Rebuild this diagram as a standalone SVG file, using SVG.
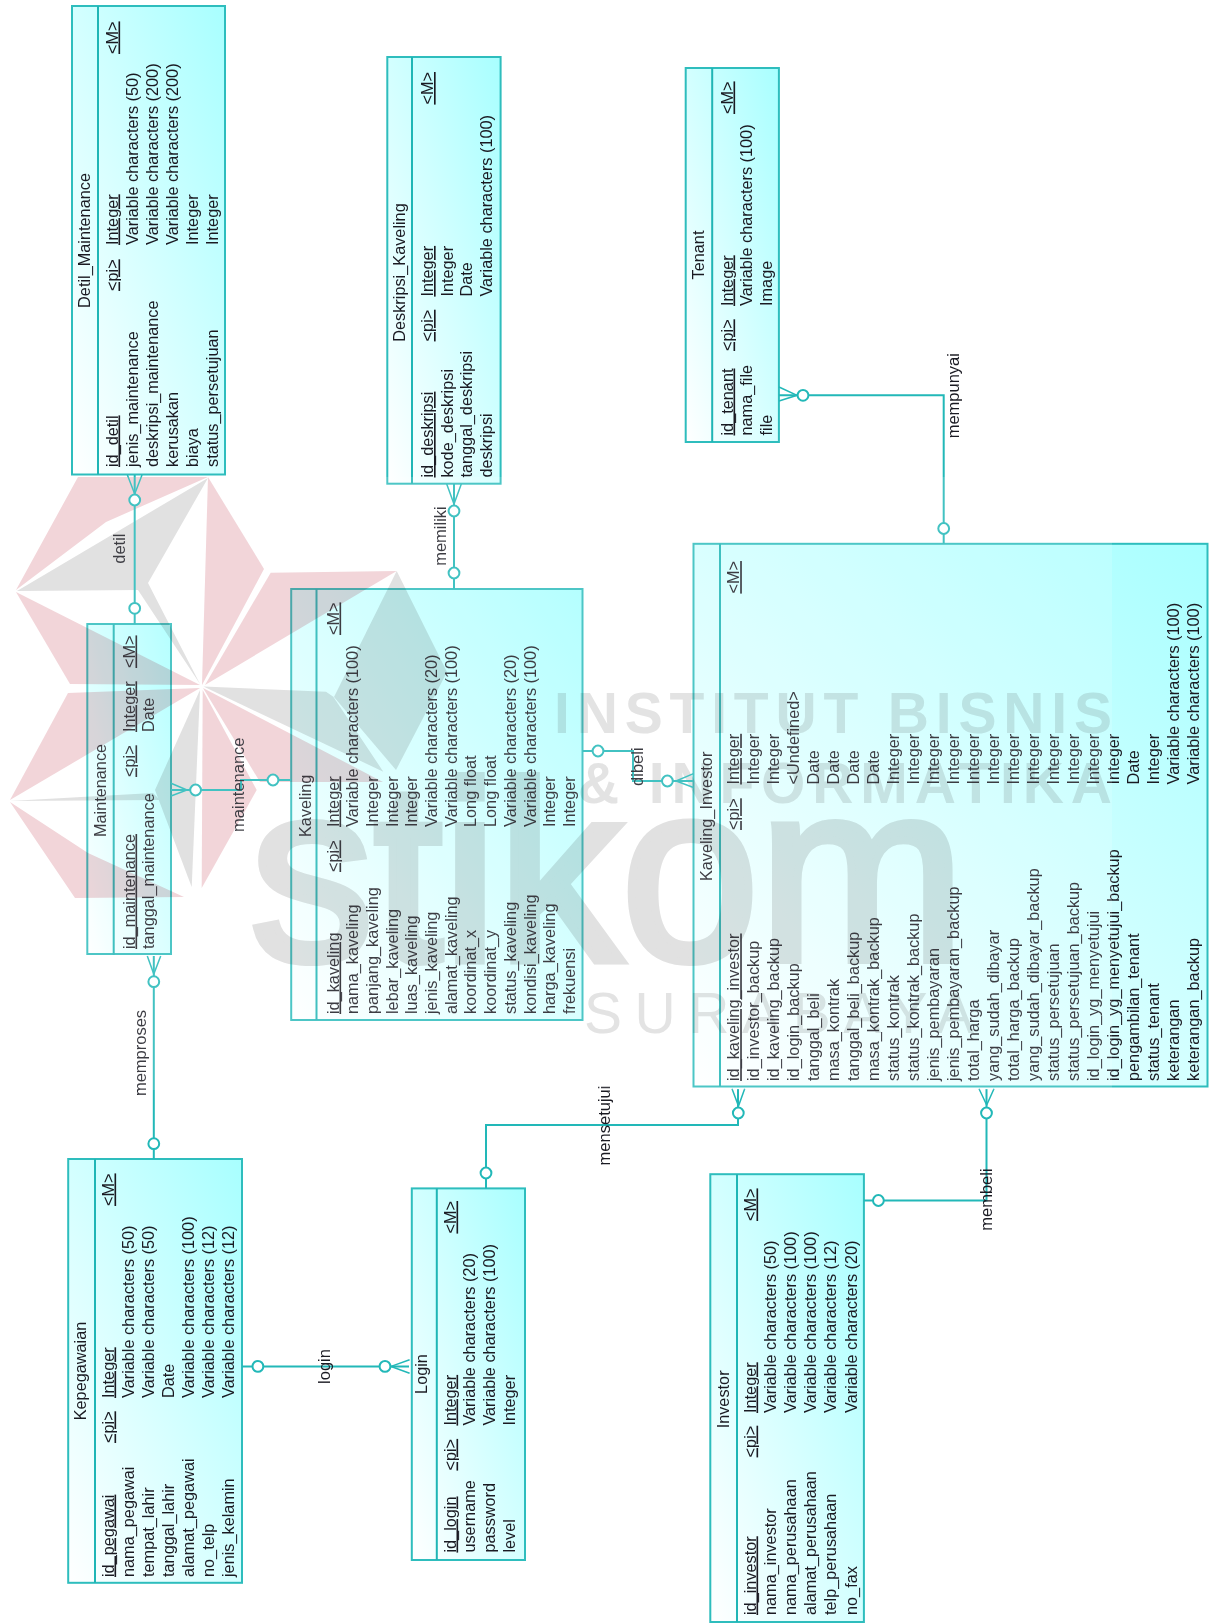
<svg xmlns="http://www.w3.org/2000/svg" width="1211" height="1623" viewBox="0 0 1211 1623">
<defs>
<linearGradient id="ent" x1="0" y1="1" x2="1" y2="0"><stop offset="0" stop-color="#ffffff"/><stop offset="1" stop-color="#a8ffff"/></linearGradient>
</defs>
<style>
text{font-family:"Liberation Sans",Arial,sans-serif;font-size:16.3px;fill:#1a1a22}
.box{fill:url(#ent);stroke:#2ebdbd;stroke-width:2}
.div{stroke:#1fb5b5;stroke-width:2;fill:none}
.u{text-decoration:underline}
.t{text-anchor:middle}
.lbl{text-anchor:middle;font-size:16.5px}
.ln{fill:none;stroke:#22b8b8;stroke-width:2}
.cf{fill:none;stroke:#22b8b8;stroke-width:1.5}
.c{fill:#fff;stroke:#22b8b8;stroke-width:2}
.p{fill:#f0ced3}
.g{fill:#dcdcdc}
.w{font-family:"Liberation Sans",Arial,sans-serif;font-weight:bold;fill:#dfdfdf;font-size:57px}
.big{font-weight:normal;font-size:255px;stroke:#dcdcdc;stroke-width:8;fill:#dcdcdc}
</style>
<rect width="1211" height="1623" fill="#fff"/>

<g id="Detil_Maintenance">
<rect class="box" x="72" y="6" width="153" height="468.5"/><path class="div" d="M98 6V474.5"/>
<text class="t" transform="translate(90 240.5) rotate(-90)">Detil_Maintenance</text>
<g transform="translate(117.5 467) rotate(-90)">
<text class="u">id_detil</text><text y="20.1">jenis_maintenance</text><text y="40.2">deskripsi_maintenance</text><text y="60.3">kerusakan</text><text y="80.4">biaya</text><text y="100.5">status_persetujuan</text>
<text class="u" x="176">&lt;pi&gt;</text>
<text class="u" x="222">Integer</text><text x="222" y="20.1">Variable characters (50)</text><text x="222" y="40.2">Variable characters (200)</text><text x="222" y="60.3">Variable characters (200)</text><text x="222" y="80.4">Integer</text><text x="222" y="100.5">Integer</text>
<text class="u" x="413">&lt;M&gt;</text>
</g></g>

<g id="Deskripsi_Kaveling">
<rect class="box" x="387.3" y="57" width="113.3" height="426.7"/><path class="div" d="M412 57V483.7"/>
<text class="t" transform="translate(404.5 272.5) rotate(-90)">Deskripsi_Kaveling</text>
<g transform="translate(433 477.6) rotate(-90)">
<text class="u">id_deskripsi</text><text y="19.7">kode_deskripsi</text><text y="39.4">tanggal_deskripsi</text><text y="59.1">deskripsi</text>
<text class="u" x="136.2">&lt;pi&gt;</text>
<text class="u" x="181">Integer</text><text x="181" y="19.7">Integer</text><text x="181" y="39.4">Date</text><text x="181" y="59.1">Variable characters (100)</text>
<text class="u" x="373">&lt;M&gt;</text>
</g></g>

<g id="Tenant">
<rect class="box" x="685.7" y="68" width="93.2" height="374"/><path class="div" d="M712.2 68V442"/>
<text class="t" transform="translate(704 255) rotate(-90)">Tenant</text>
<g transform="translate(732.5 435.5) rotate(-90)">
<text class="u">id_tenant</text><text y="19.7">nama_file</text><text y="39.4">file</text>
<text class="u" x="84.5">&lt;pi&gt;</text>
<text class="u" x="129.5">Integer</text><text x="129.5" y="19.7">Variable characters (100)</text><text x="129.5" y="39.4">Image</text>
<text class="u" x="321.5">&lt;M&gt;</text>
</g></g>

<g id="Kaveling_Investor">
<rect class="box" x="693.5" y="543.8" width="514" height="542.7"/><path class="div" d="M720 543.8V1086.5"/>
<text class="t" transform="translate(711.5 816.4) rotate(-90)">Kaveling_Investor</text>
<g transform="translate(739.2 1081) rotate(-90)">
<text class="u">id_kaveling_investor</text><text y="20">id_investor_backup</text><text y="40">id_kaveling_backup</text><text y="60">id_login_backup</text><text y="80">tanggal_beli</text><text y="100">masa_kontrak</text><text y="120">tanggal_beli_backup</text><text y="140">masa_kontrak_backup</text><text y="160">status_kontrak</text><text y="180">status_kontrak_backup</text><text y="200">jenis_pembayaran</text><text y="220">jenis_pembayaran_backup</text><text y="240">total_harga</text><text y="260">yang_sudah_dibayar</text><text y="280">total_harga_backup</text><text y="300">yang_sudah_dibayar_backup</text><text y="320">status_persetujuan</text><text y="340">status_persetujuan_backup</text><text y="360">id_login_yg_menyetujui</text><text y="380">id_login_yg_menyetujui_backup</text><text y="400">pengambilan_tenant</text><text y="420">status_tenant</text><text y="440">keterangan</text><text y="460">keterangan_backup</text>
<text class="u" x="251">&lt;pi&gt;</text>
<g transform="translate(296.5 0)">
<text class="u">Integer</text><text y="20">Integer</text><text y="40">Integer</text><text y="60">&lt;Undefined&gt;</text><text y="80">Date</text><text y="100">Date</text><text y="120">Date</text><text y="140">Date</text><text y="160">Integer</text><text y="180">Integer</text><text y="200">Integer</text><text y="220">Integer</text><text y="240">Integer</text><text y="260">Integer</text><text y="280">Integer</text><text y="300">Integer</text><text y="320">Integer</text><text y="340">Integer</text><text y="360">Integer</text><text y="380">Integer</text><text y="400">Date</text><text y="420">Integer</text><text y="440">Variable characters (100)</text><text y="460">Variable characters (100)</text>
</g>
<text class="u" x="487.4">&lt;M&gt;</text>
</g></g>

<g id="Kaveling">
<rect class="box" x="291.2" y="589" width="291.3" height="431"/><path class="div" d="M316.5 589V1020"/>
<text class="t" transform="translate(310.5 805.8) rotate(-90)">Kaveling</text>
<g transform="translate(338.5 1014) rotate(-90)">
<text class="u">id_kaveling</text><text y="19.7">nama_kaveling</text><text y="39.4">panjang_kaveling</text><text y="59.1">lebar_kaveling</text><text y="78.8">luas_kaveling</text><text y="98.5">jenis_kaveling</text><text y="118.2">alamat_kaveling</text><text y="137.9">koordinat_x</text><text y="157.6">koordinat_y</text><text y="177.3">status_kaveling</text><text y="197">kondisi_kaveling</text><text y="216.7">harga_kaveling</text><text y="236.4">frekuensi</text>
<text class="u" x="142">&lt;pi&gt;</text>
<g transform="translate(187 0)">
<text class="u">Integer</text><text y="19.7">Variable characters (100)</text><text y="39.4">Integer</text><text y="59.1">Integer</text><text y="78.8">Integer</text><text y="98.5">Variable characters (20)</text><text y="118.2">Variable characters (100)</text><text y="137.9">Long float</text><text y="157.6">Long float</text><text y="177.3">Variable characters (20)</text><text y="197">Variable characters (100)</text><text y="216.7">Integer</text><text y="236.4">Integer</text>
</g>
<text class="u" x="379">&lt;M&gt;</text>
</g></g>

<g id="Maintenance">
<rect class="box" x="87.3" y="624" width="83.7" height="330"/><path class="div" d="M113.7 624V955"/>
<text class="t" transform="translate(105.5 790.5) rotate(-90)">Maintenance</text>
<g transform="translate(134.5 949) rotate(-90)">
<text class="u">id_maintenance</text><text y="19">tanggal_maintenance</text>
<text class="u" x="172">&lt;pi&gt;</text>
<text class="u" x="217">Integer</text><text x="217" y="19">Date</text>
<text class="u" x="281">&lt;M&gt;</text>
</g></g>

<g id="Kepegawaian">
<rect class="box" x="68.2" y="1159" width="173.8" height="423.8"/><path class="div" d="M95 1159V1582.8"/>
<text class="t" transform="translate(86 1371) rotate(-90)">Kepegawaian</text>
<g transform="translate(113.5 1577) rotate(-90)">
<text class="u">id_pegawai</text><text y="20">nama_pegawai</text><text y="40">tempat_lahir</text><text y="60">tanggal_lahir</text><text y="80">alamat_pegawai</text><text y="100">no_telp</text><text y="120">jenis_kelamin</text>
<text class="u" x="134">&lt;pi&gt;</text>
<g transform="translate(179 0)">
<text class="u">Integer</text><text y="20">Variable characters (50)</text><text y="40">Variable characters (50)</text><text y="60">Date</text><text y="80">Variable characters (100)</text><text y="100">Variable characters (12)</text><text y="120">Variable characters (12)</text>
</g>
<text class="u" x="371">&lt;M&gt;</text>
</g></g>

<g id="Login">
<rect class="box" x="411.8" y="1188.4" width="113.2" height="371.6"/><path class="div" d="M436.8 1188.4V1560"/>
<text class="t" transform="translate(427 1374) rotate(-90)">Login</text>
<g transform="translate(455.5 1552.6) rotate(-90)">
<text class="u">id_login</text><text y="19.8">username</text><text y="39.6">password</text><text y="59.4">level</text>
<text class="u" x="82">&lt;pi&gt;</text>
<text class="u" x="127">Integer</text><text x="127" y="19.8">Variable characters (20)</text><text x="127" y="39.6">Variable characters (100)</text><text x="127" y="59.4">Integer</text>
<text class="u" x="319">&lt;M&gt;</text>
</g></g>

<g id="Investor">
<rect class="box" x="710.3" y="1174.2" width="153.6" height="447.8"/><path class="div" d="M737 1174.2V1622"/>
<text class="t" transform="translate(729 1399.4) rotate(-90)">Investor</text>
<g transform="translate(755.5 1615) rotate(-90)">
<text class="u">id_investor</text><text y="20.2">nama_investor</text><text y="40.4">nama_perusahaan</text><text y="60.6">alamat_perusahaan</text><text y="80.8">telp_perusahaan</text><text y="101">no_fax</text>
<text class="u" x="157.6">&lt;pi&gt;</text>
<g transform="translate(202 0)">
<text class="u">Integer</text><text y="20.2">Variable characters (50)</text><text y="40.4">Variable characters (100)</text><text y="60.6">Variable characters (100)</text><text y="80.8">Variable characters (12)</text><text y="101">Variable characters (20)</text>
</g>
<text class="u" x="394">&lt;M&gt;</text>
</g></g>

<g id="watermark" style="mix-blend-mode:multiply">
<polygon class="p" points="16,590 78,477 208,477 106,522"/>
<polygon class="g" points="17,591 208,478 148,583 200,684 138,590"/>
<polygon class="p" points="208,477 264,569 202,685"/>
<polygon class="p" points="270.7,572.7 396.7,571 205,685"/>
<polygon class="g" points="396.7,571 447,672 396,770 334,697"/>
<polygon class="g" points="203.5,686.5 326,691.7 333.3,696.7 383.3,771.7"/>
<polygon class="p" points="203,688 383,782 260,782"/>
<polygon class="p" points="202.7,690 256.7,790 201.7,888"/>
<polygon class="g" points="200,690 191.7,887 155,790"/>
<polygon class="p" points="10,802 75,898 184,897 88,853"/>
<polygon class="g" points="10,801 153,793 160,800"/>
<polygon class="p" points="10,800 68,693 200,688"/>
<polygon class="p" points="16,592 70,684 200,685"/>
<text class="w" x="554" y="733" textLength="558" lengthAdjust="spacing">INSTITUT BISNIS</text>
<text class="w" x="578" y="803" textLength="534" lengthAdjust="spacing">&amp; INFORMATIKA</text>
<text class="w big" x="250" y="960" textLength="715" lengthAdjust="spacingAndGlyphs">stikom</text>
<text class="w" x="584" y="1033" style="font-weight:normal" textLength="390" lengthAdjust="spacing">SURABAYA</text>
</g>

<g id="connectors">
<g id="rel-detil"><path class="ln" d="M134.7 475V624"/><path class="cf" d="M127.4 475L134.7 494L142 475"/><circle class="c" cx="134.7" cy="500" r="5.4"/><circle class="c" cx="134.7" cy="608.3" r="5.4"/><text class="lbl" transform="translate(125 548.6) rotate(-90)">detil</text></g>
<g id="rel-memiliki"><path class="ln" d="M454 484V589"/><path class="cf" d="M446.7 484L454 504L461.3 484"/><circle class="c" cx="454" cy="511" r="5.4"/><circle class="c" cx="454" cy="573" r="5.4"/><text class="lbl" transform="translate(445.8 536) rotate(-90)">memiliki</text></g>
<g id="rel-mempunyai"><path class="ln" d="M779 395.3H943.7V543.4"/><path class="cf" d="M779 387L797 395.3L779 401"/><circle class="c" cx="803" cy="395.3" r="5.4"/><circle class="c" cx="943.7" cy="528.5" r="5.4"/><text class="lbl" transform="translate(959 395.7) rotate(-90)">mempunyai</text></g>
<g id="rel-maintenance"><path class="ln" d="M171 790H241V780H291"/><path class="cf" d="M171 783.3L187 790L171 796"/><circle class="c" cx="195.6" cy="790" r="5.4"/><circle class="c" cx="273" cy="780" r="5.4"/><text class="lbl" transform="translate(243.8 784.7) rotate(-90)">maintenance</text></g>
<g id="rel-memproses"><path class="ln" d="M153.8 956V1159"/><path class="cf" d="M147.3 956L153.8 974L160.7 956"/><circle class="c" cx="153.8" cy="981.7" r="5.4"/><circle class="c" cx="153.8" cy="1143.7" r="5.4"/><text class="lbl" transform="translate(145.7 1053) rotate(-90)">memproses</text></g>
<g id="rel-login"><path class="ln" d="M242 1366.4H409"/><path class="cf" d="M409.6 1359.8L391 1366.4L409.6 1373.3"/><circle class="c" cx="257.9" cy="1366.4" r="5.4"/><circle class="c" cx="385" cy="1366.4" r="5.4"/><text class="lbl" transform="translate(330 1366.5) rotate(-90)">login</text></g>
<g id="rel-mensetujui"><path class="ln" d="M486 1188.4V1125H738V1089"/><path class="cf" d="M732 1088.7L738.5 1106L744.7 1088.7"/><circle class="c" cx="738.3" cy="1113" r="5.4"/><circle class="c" cx="486" cy="1173" r="5.4"/><text class="lbl" transform="translate(610 1125.5) rotate(-90)">mensetujui</text></g>
<g id="rel-membeli"><path class="ln" d="M986.5 1089V1200.5H864"/><path class="cf" d="M979 1088.7L986.7 1105L994 1088.7"/><circle class="c" cx="986.5" cy="1113" r="5.4"/><circle class="c" cx="878.4" cy="1200.5" r="5.4"/><text class="lbl" transform="translate(991.7 1199.6) rotate(-90)">membeli</text></g>
<g id="rel-dibeli"><path class="ln" d="M582.5 751H633V781H693"/><path class="cf" d="M693.5 773.6L676 781L693.5 787.5"/><circle class="c" cx="598" cy="751" r="5.4"/><circle class="c" cx="667.4" cy="781" r="5.4"/><text class="lbl" transform="translate(642.9 766.7) rotate(-90)">dibeli</text></g>
</g>

<rect x="0" y="477" width="1112" height="613" fill="#fff" opacity="0.15"/>
</svg>
